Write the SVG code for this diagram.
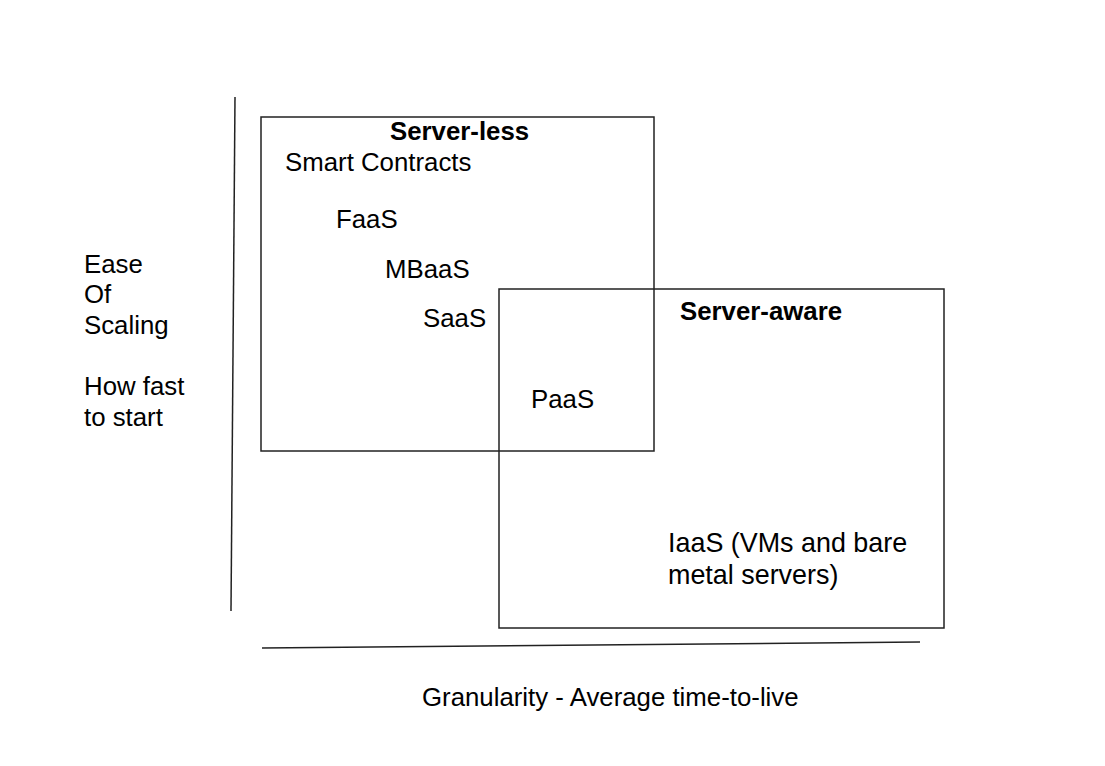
<svg xmlns="http://www.w3.org/2000/svg" width="1105" height="766" viewBox="0 0 1105 766">
<style>
text{font-family:"Liberation Sans",Arial,sans-serif;font-size:25.8px;fill:#000}
.b{font-weight:bold}
.l{font-size:26.9px}
.box{fill:none;stroke:#222;stroke-width:1.5}
.ax{fill:none;stroke:#222;stroke-width:1.5}
</style>
<rect width="1105" height="766" fill="#fff"/>
<g id="axes">
<line class="ax" x1="235" y1="97" x2="231" y2="611"/>
<line class="ax" x1="262" y1="648" x2="920" y2="642"/>
</g>
<g id="serverless">
<rect class="box" x="261" y="117" width="393" height="334"/>
<text class="b" x="390" y="140">Server-less</text>
<text x="285" y="171">Smart Contracts</text>
<text x="336" y="228">FaaS</text>
<text x="385" y="278">MBaaS</text>
<text x="423" y="327">SaaS</text>
</g>
<g id="serveraware">
<rect class="box" x="499" y="289" width="445" height="339"/>
<text class="b" x="680" y="320">Server-aware</text>
<text x="531" y="408">PaaS</text>
<text class="l" x="668" y="552">IaaS (VMs and bare</text>
<text class="l" x="668" y="584">metal servers)</text>
</g>
<g id="yaxis-label">
<text x="84" y="273">Ease</text>
<text x="84" y="303">Of</text>
<text x="84" y="334">Scaling</text>
<text x="84" y="395">How fast</text>
<text x="84" y="426">to start</text>
</g>
<g id="xaxis-label">
<text x="422" y="706">Granularity - Average time-to-live</text>
</g>
</svg>
